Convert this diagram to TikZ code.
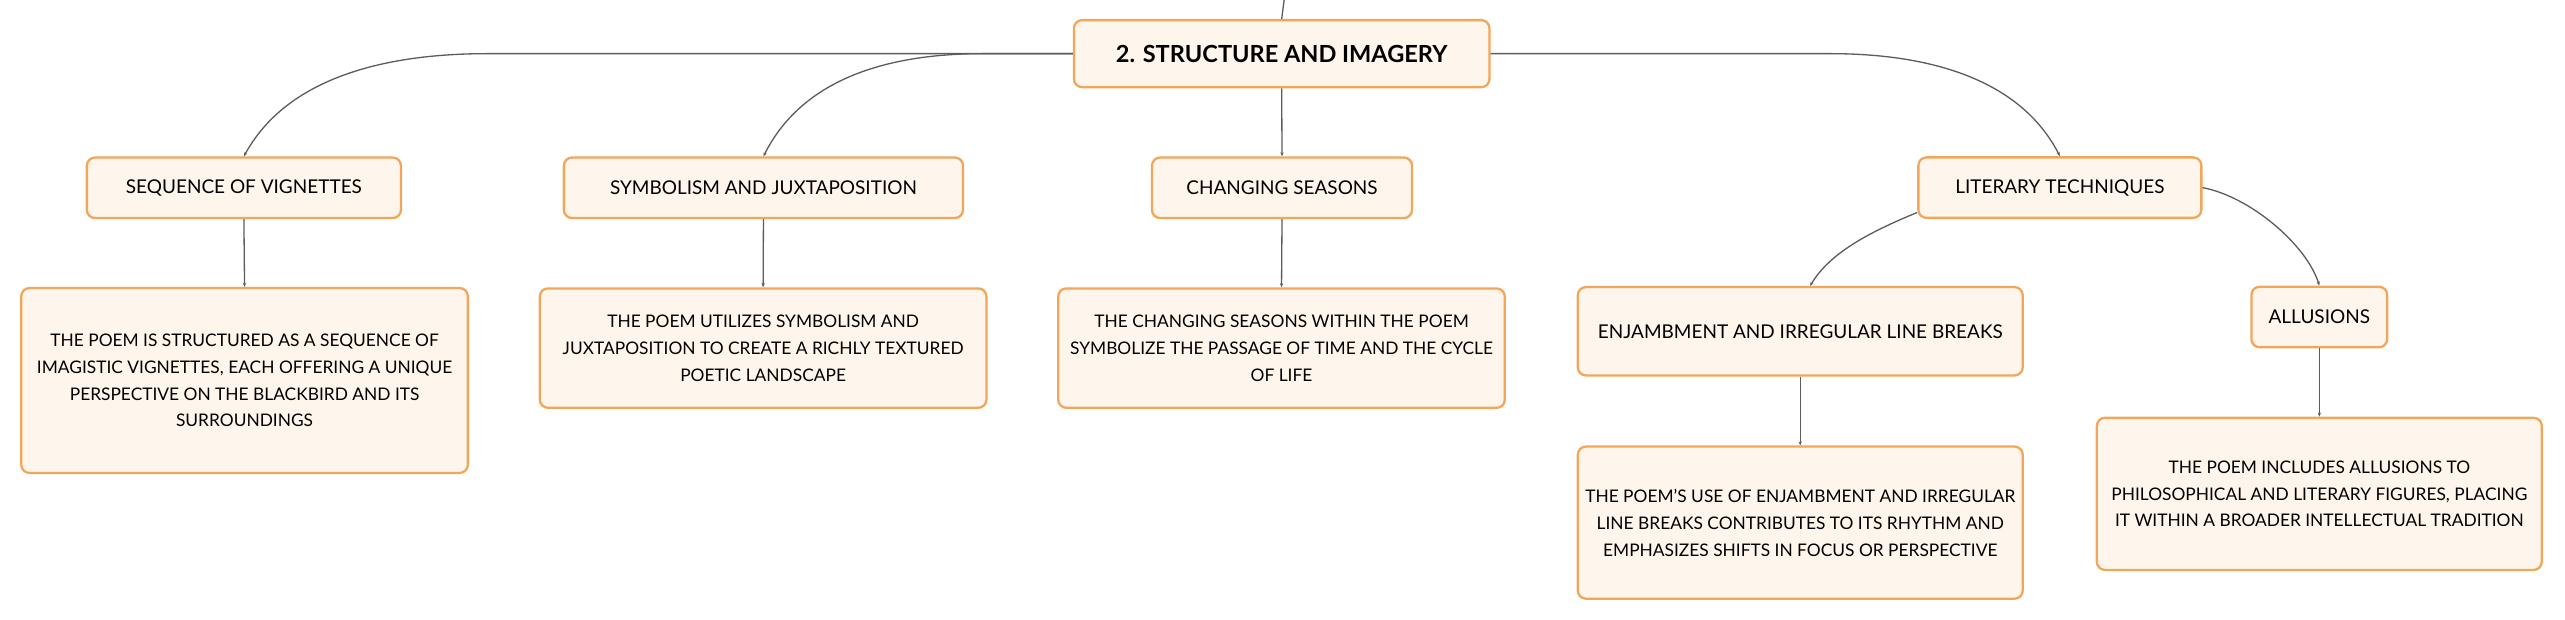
\documentclass[tikz,border=0pt]{standalone}
\usepackage{fontspec}
\setmainfont{Lato}
\usetikzlibrary{arrows.meta}

\definecolor{borde}{HTML}{F2A65A}
\definecolor{relleno}{HTML}{FEF5EC}
\definecolor{linea}{HTML}{5C5C5C}

\tikzset{
  caja/.style={draw=borde, fill=relleno, line width=1.4pt, rounded corners=5pt,
    align=center, inner sep=0pt},
  raiz/.style={caja, font=\fontsize{14.4}{17}\selectfont\bfseries},
  tema/.style={caja, font=\fontsize{11.6}{16.4}\selectfont},
  hoja/.style={caja, font=\fontsize{10.6}{16.4}\selectfont},
  rama/.style={draw=linea, line width=0.8pt, -{Stealth[length=2.5pt,width=2pt]}},
}

\begin{document}
\begin{tikzpicture}[x=1pt, y=-1pt]
    \useasboundingbox (0,0) rectangle (1568,379);

    % Nodo central
    \node[raiz, minimum width=254pt, minimum height=41pt] (raiz) at (783.5,32.8) {2. STRUCTURE AND IMAGERY};
    \coordinate (arriba) at (785,0);

    % Temas del primer nivel
    \node[tema, minimum width=192pt, minimum height=37pt] (secuencia) at (149.1,114.8) {SEQUENCE OF VIGNETTES};
    \node[tema, minimum width=244pt, minimum height=37pt] (simbolismo) at (466.7,114.8) {SYMBOLISM AND JUXTAPOSITION};
    \node[tema, minimum width=159pt, minimum height=37pt] (estaciones) at (783.7,114.8) {CHANGING SEASONS};
    \node[tema, minimum width=173pt, minimum height=37pt] (tecnicas) at (1259.2,114.7) {LITERARY TECHNIQUES};

    % Temas del segundo nivel
    \node[tema, minimum width=272pt, minimum height=54pt] (encabalgamiento) at (1100.5,202.5) {ENJAMBMENT AND IRREGULAR LINE BREAKS};
    \node[tema, minimum width=83pt, minimum height=37pt] (alusiones) at (1417.8,193.8) {ALLUSIONS};

    % Descripciones
    \node[hoja, minimum width=273pt, minimum height=113pt] (secuenciaD) at (149.5,232.6)
      {THE POEM IS STRUCTURED AS A SEQUENCE OF\\IMAGISTIC VIGNETTES, EACH OFFERING A UNIQUE\\PERSPECTIVE ON THE BLACKBIRD AND ITS\\SURROUNDINGS};
    \node[hoja, minimum width=273pt, minimum height=73pt] (simbolismoD) at (466.5,212.8)
      {THE POEM UTILIZES SYMBOLISM AND\\JUXTAPOSITION TO CREATE A RICHLY TEXTURED\\POETIC LANDSCAPE};
    \node[hoja, minimum width=273pt, minimum height=73pt] (estacionesD) at (783.4,212.8)
      {THE CHANGING SEASONS WITHIN THE POEM\\SYMBOLIZE THE PASSAGE OF TIME AND THE CYCLE\\OF LIFE};
    \node[hoja, minimum width=272pt, minimum height=93pt] (encabalgamientoD) at (1100.5,319.5)
      {THE POEM'S USE OF ENJAMBMENT AND IRREGULAR\\LINE BREAKS CONTRIBUTES TO ITS RHYTHM AND\\EMPHASIZES SHIFTS IN FOCUS OR PERSPECTIVE};
    \node[hoja, minimum width=272pt, minimum height=93pt] (alusionesD) at (1417.8,301.9)
      {THE POEM INCLUDES ALLUSIONS TO\\PHILOSOPHICAL AND LITERARY FIGURES, PLACING\\IT WITHIN A BROADER INTELLECTUAL TRADITION};

    % Conexiones desde el nodo central
    \draw[draw=linea, line width=0.8pt] (arriba) -- (raiz.north);
    \draw[rama] (raiz.west) -- ++(-358,0) .. controls +(-67,0) and +(25,-46) .. (secuencia.north);
    \draw[rama] (raiz.west) -- ++(-55,0) .. controls +(-61,0) and +(23,-46) .. (simbolismo.north);
    \draw[rama] (raiz.south) -- (estaciones.north);
    \draw[rama] (raiz.east) -- ++(207.6,0) .. controls +(63,0) and +(-23.5,-46) .. (tecnicas.north);

    % Conexiones de LITERARY TECHNIQUES
    \draw[rama] ([yshift=4pt]tecnicas.south west) .. controls +(-30,12.3) and +(12,-20) .. ([xshift=6pt]encabalgamiento.north);
    \draw[rama] (tecnicas.east) .. controls +(29,5.4) and +(-7.8,-25) .. (alusiones.north);

    % Conexiones hacia las descripciones
    \draw[rama] (secuencia.south) -- (secuenciaD.north);
    \draw[rama] (simbolismo.south) -- (simbolismoD.north);
    \draw[rama] (estaciones.south) -- (estacionesD.north);
    \draw[rama] (encabalgamiento.south) -- (encabalgamientoD.north);
    \draw[rama] (alusiones.south) -- (alusionesD.north);
  \end{tikzpicture}
\end{document}
